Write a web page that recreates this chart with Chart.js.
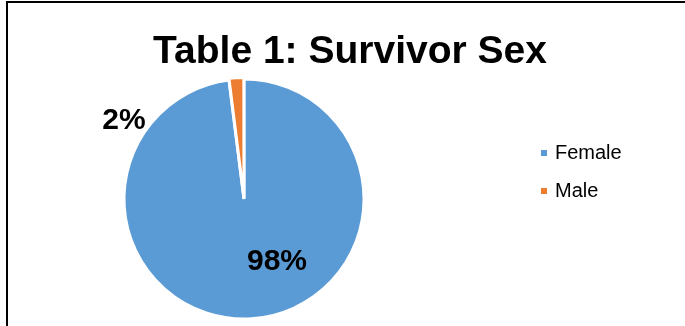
<!DOCTYPE html>
<html>
<head>
<meta charset="utf-8">
<title>Survivor Sex</title>
<script src="https://cdn.jsdelivr.net/npm/chart.js@4.4.1/dist/chart.umd.min.js"></script>
<style>
  html, body { margin: 0; padding: 0; background: #fff; }
  #wrap { position: relative; width: 685px; height: 326px; overflow: hidden; }
  /* black frame, only top and left edges fall inside the view */
  #frame {
    position: absolute; left: 6px; top: 1px; width: 760px; height: 400px;
    border-top: 2px solid #000; border-left: 2px solid #000;
  }
  #title {
    position: absolute; left: 0; top: 30px; width: 700px;
    text-align: center; font: bold 39px/39px "Liberation Sans", Arial, sans-serif; color: #000;
  }
  #chart { position: absolute; left: 0; top: 0; }
</style>
</head>
<body>
<div id="wrap">
  <div id="frame"></div>
  <canvas id="chart" width="685" height="326"></canvas>
  <div id="title">Table 1: Survivor Sex</div>
</div>
<script>
// ---- Data ----
const categories = ['Female', 'Male'];
const shares     = [98, 2];
const colors     = ['#5B9BD5', '#ED7D31'];
const explode    = [0, 3];

// label spots, in units of the pie radius from its centre
const labelSpots = [
  { dx: 0.275, dy: 0.52 },
  { dx: -1.0,  dy: -0.65 }
];

// legend block on the right
const LEGEND_X = 541, LEGEND_Y = 153, LEGEND_STEP = 38;

// ---- Percentage labels on / beside each slice ----
const sliceLabels = {
  id: 'sliceLabels',
  afterDatasetsDraw(chart) {
    const { ctx } = chart;
    const arcs = chart.getDatasetMeta(0).data;
    ctx.save();
    ctx.font = 'bold 30px "Liberation Sans", Arial, sans-serif';
    ctx.fillStyle = '#000';
    ctx.textAlign = 'center';
    ctx.textBaseline = 'middle';
    arcs.forEach((arc, i) => {
      const { x, y, outerRadius } = arc.getProps(['x', 'y', 'outerRadius'], true);
      const spot = labelSpots[i];
      ctx.fillText(shares[i] + '%', x + spot.dx * outerRadius, y + spot.dy * outerRadius);
    });
    ctx.restore();
  }
};

// ---- Square-marker legend ----
const sideLegend = {
  id: 'sideLegend',
  afterDraw(chart) {
    const { ctx } = chart;
    ctx.save();
    ctx.font = '20px "Liberation Sans", Arial, sans-serif';
    ctx.textBaseline = 'middle';
    categories.forEach((name, i) => {
      const y = LEGEND_Y + i * LEGEND_STEP;
      ctx.fillStyle = colors[i];
      ctx.fillRect(LEGEND_X, y - 3, 6, 6);
      ctx.fillStyle = '#000';
      ctx.fillText(name, LEGEND_X + 14, y);
    });
    ctx.restore();
  }
};

new Chart(document.getElementById('chart'), {
  type: 'pie',
  data: {
    labels: categories,
    datasets: [{
      data: shares,
      backgroundColor: colors,
      borderColor: '#fff',
      borderWidth: 3,
      offset: explode,
      hoverOffset: 0
    }]
  },
  options: {
    responsive: false,
    animation: false,
    radius: 120,
    layout: { padding: { left: 0, right: 197, top: 76, bottom: 4 } },
    plugins: {
      legend: { display: false },
      title: { display: false },
      tooltip: { enabled: false }
    }
  },
  plugins: [sliceLabels, sideLegend]
});
</script>
</body>
</html>
